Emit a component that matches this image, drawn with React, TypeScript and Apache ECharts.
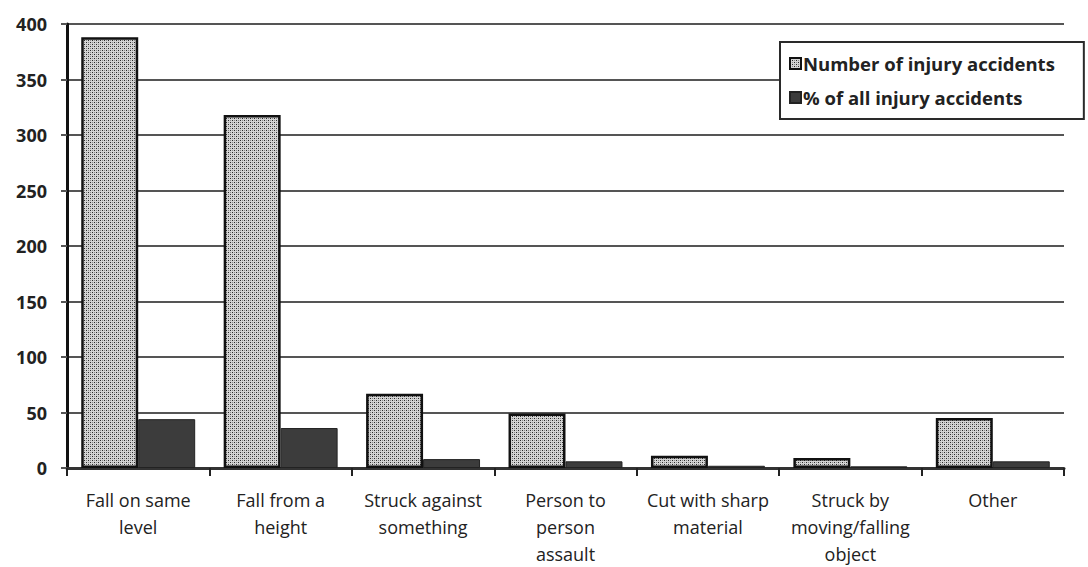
import React, { useEffect, useRef } from "react";
import * as echarts from "echarts";

const categories = [
  "Fall on same\nlevel",
  "Fall from a\nheight",
  "Struck against\nsomething",
  "Person to\nperson\nassault",
  "Cut with sharp\nmaterial",
  "Struck by\nmoving/falling\nobject",
  "Other",
];
const numberOfAccidents = [388, 318, 67, 49, 11, 9, 45];
const percentOfAccidents = [44, 36, 8, 6, 2, 1.5, 6];
const seriesNames = ["Number of injury accidents", "% of all injury accidents"];

function makePattern(): HTMLCanvasElement {
  const c = document.createElement("canvas");
  c.width = 4;
  c.height = 4;
  const ctx = c.getContext("2d")!;
  ctx.fillStyle = "#d4d4d4";
  ctx.fillRect(0, 0, 4, 4);
  ctx.fillStyle = "#2a2a2a";
  ctx.fillRect(0, 0, 1, 1);
  ctx.fillRect(2, 2, 1, 1);
  ctx.fillStyle = "#8a8a8a";
  ctx.fillRect(2, 0, 1, 1);
  ctx.fillRect(0, 2, 1, 1);
  return c;
}

export default function App() {
  const ref = useRef<HTMLDivElement>(null);
  useEffect(() => {
    if (!ref.current) return;
    const chart = echarts.init(ref.current, null, { renderer: "svg" });
    const pattern = { image: makePattern(), repeat: "repeat" };
    chart.setOption({
      animation: false,
      backgroundColor: "#ffffff",
      textStyle: { fontFamily: "Open Sans" },
      grid: { left: 67, right: 24, top: 24, bottom: 95, containLabel: false },
      legend: {
        orient: "vertical",
        left: 780,
        top: 42,
        backgroundColor: "#ffffff",
        borderColor: "#2a2a2a",
        borderWidth: 2,
        padding: [12, 29, 12, 9],
        itemWidth: 11,
        itemHeight: 11,
        itemGap: 15,
        icon: "rect",
        textStyle: { fontFamily: "Open Sans", fontWeight: "bold", fontSize: 18.5, color: "#222", padding: [0, 0, 0, -3] },
        data: seriesNames,
      },
      xAxis: {
        type: "category",
        data: categories,
        axisLine: { lineStyle: { color: "#333", width: 3 } },
        axisTick: { show: true, length: 8, lineStyle: { color: "#222", width: 2 } },
        axisLabel: {
          fontFamily: "Open Sans",
          fontSize: 18,
          fontWeight: 500,
          color: "#222",
          lineHeight: 27,
          margin: 18,
          interval: 0,
        },
      },
      yAxis: {
        type: "value",
        min: 0,
        max: 400,
        interval: 50,
        axisLine: { show: true, lineStyle: { color: "#111", width: 3 } },
        axisTick: { show: true, length: 6, lineStyle: { color: "#555", width: 2 } },
        axisLabel: {
          fontFamily: "Open Sans",
          fontWeight: "bold",
          fontSize: 18,
          color: "#222",
          margin: 20,
        },
        splitLine: { lineStyle: { color: "#555", width: 2 } },
      },
      series: [
        {
          name: seriesNames[0],
          type: "bar",
          data: numberOfAccidents,
          barGap: "0%",
          barCategoryGap: "20%",
          itemStyle: { color: pattern, borderColor: "#111", borderWidth: 2.5 },
        },
        {
          name: seriesNames[1],
          type: "bar",
          data: percentOfAccidents,
          barGap: "0%",
          barCategoryGap: "20%",
          itemStyle: { color: "#3c3c3c", borderColor: "#222", borderWidth: 1 },
        },
      ],
    });
    return () => chart.dispose();
  }, []);
  return (
    <div
      ref={ref}
      style={{ position: "fixed", left: 0, top: 0, width: 1088, height: 567 }}
    />
  );
}
